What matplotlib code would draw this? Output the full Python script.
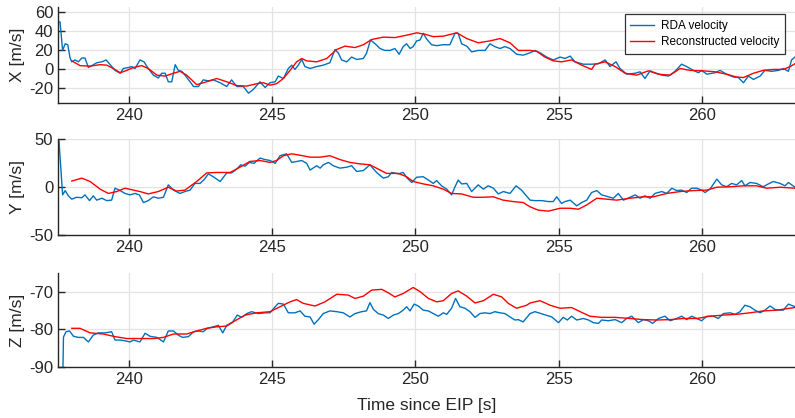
#!/usr/bin/env python3
from __future__ import annotations

import matplotlib

matplotlib.use("Agg")
import matplotlib.pyplot as plt


COLORS = {
    "rda": "#0072BD",
    "recon": "#FF0000",
    "axis": "#262626",
    "grid": "#e3e3e3",
}

# --- X component --------------------------------------------------------
x_rda_t = [
    237.53, 237.59, 237.68, 237.77, 237.86, 237.94, 238.00, 238.11, 238.23, 238.35,
    238.46, 238.58, 238.70, 238.87, 239.05, 239.20, 239.34, 239.51, 239.69, 239.80,
    239.98, 240.09, 240.21, 240.38, 240.52, 240.67, 240.85, 241.02, 241.14, 241.26,
    241.37, 241.49, 241.61, 241.72, 241.84, 241.95, 242.13, 242.25, 242.42, 242.59,
    242.77, 242.94, 243.18, 243.41, 243.58, 243.76, 243.99, 244.17, 244.34, 244.57,
    244.75, 244.92, 245.10, 245.21, 245.39, 245.56, 245.68, 245.79, 245.91, 246.03,
    246.14, 246.32, 246.55, 246.78, 247.01, 247.19, 247.31, 247.42, 247.60, 247.77,
    247.95, 248.18, 248.29, 248.43, 248.59, 248.76, 248.93, 249.11, 249.28, 249.43,
    249.57, 249.69, 249.81, 249.92, 250.04, 250.16, 250.27, 250.39, 250.56, 250.74,
    250.97, 251.20, 251.38, 251.49, 251.61, 251.79, 251.96, 252.19, 252.43, 252.60,
    252.77, 252.95, 253.12, 253.30, 253.53, 253.76, 254.00, 254.17, 254.35, 254.58,
    254.81, 255.05, 255.22, 255.40, 255.57, 255.86, 256.15, 256.39, 256.62, 256.79,
    257.00, 257.14, 257.37, 257.67, 257.84, 258.01, 258.19, 258.36, 258.60, 258.83,
    259.06, 259.29, 259.47, 259.70, 259.88, 259.99, 260.17, 260.46, 260.63, 260.86,
    261.10, 261.27, 261.45, 261.62, 261.80, 262.03, 262.20, 262.44, 262.67, 262.84,
    263.02, 263.13, 263.25,
]
x_rda_v = [
    50, 50, 20, 27, 26, 12, 8, 10, 8, 12,
    12, 2, 4, 7, 8, 10, 5, -1, -4, 1,
    2, 3, 1, 10, 8, 1, -6, -9, -4, -4,
    -13, -13, 5, -1, -2, -6, -13, -18, -18, -11,
    -12, -11, -14, -18, -11, -18, -18, -25, -21, -13,
    -19, -14, -13, -7, -9.5, 1, 4.5, 0, 4.5, 10.5,
    3, 1, 3, 4.5, 7, 21, 17, 10, 8, 13,
    10.5, 11.5, 17, 31, 27, 22, 20, 20, 22, 16,
    24, 27, 22, 24, 30, 31, 38, 32, 26, 25,
    26, 26, 38, 38, 27, 24.5, 18.5, 20, 20, 27,
    24, 22, 24, 22, 16, 15, 17.5, 20, 17.5, 13,
    10, 13, 11.5, 14, 8, 5.5, 5.5, 6, 10, 3,
    8, 1, -5, -4, -2.5, -9.5, -1.5, -3.5, -6, -7,
    -2, 5.5, 3, -1, -3.5, -1, -5, -3.5, -1, -5,
    -8, -8.5, -14, -7, -10.5, -7, -1, -2, -1, 1,
    -2, 10, 13,
]
x_rec_t = [
    238.00, 238.29, 238.64, 238.99, 239.22, 239.45, 239.69, 239.92, 240.15, 240.44,
    240.67, 240.97, 241.26, 241.55, 241.78, 242.01, 242.36, 242.71, 243.06, 243.41,
    243.76, 244.11, 244.46, 244.69, 244.92, 245.15, 245.39, 245.62, 245.85, 246.03,
    246.20, 246.55, 246.90, 247.25, 247.54, 247.89, 248.18, 248.47, 248.88, 249.28,
    249.69, 250.04, 250.33, 250.62, 250.97, 251.44, 251.79, 252.19, 252.60, 252.95,
    253.30, 253.59, 254.00, 254.23, 254.52, 254.81, 255.10, 255.45, 255.80, 256.15,
    256.27, 256.62, 256.97, 257.32, 257.72, 258.13, 258.48, 258.89, 259.24, 259.59,
    260.05, 260.46, 260.86, 261.21, 261.45, 261.80, 262.14, 262.49, 262.84, 263.08,
    263.25,
]
x_rec_v = [
    9, 4, 3.5, 5, 4.5, 1, -3.5, -1, 2, 4,
    1, -6, -7, -4, -2, -6, -16, -13, -9.5, -13,
    -17, -17.5, -15, -14, -16.5, -15, -9.5, -1, 8, 11.5,
    9, 8, 11.5, 21, 24.5, 23, 26, 31.5, 34, 33.5,
    36, 38.5, 37, 34.5, 35, 38.5, 32.5, 28, 30, 32.5,
    28, 20, 20, 19, 13, 9, 8, 10, 4.5, 0,
    5.5, 8, 3, -4, -6, -1.5, -5, -6, 1, -1,
    -1.5, -2.5, -5, -8, -8.5, -4, -1, 0, 0, 3,
    6,
]

# --- Y component --------------------------------------------------------
y_rda_t = [
    237.55, 237.68, 237.77, 237.88, 238.00, 238.17, 238.35, 238.46, 238.62, 238.75,
    238.87, 239.05, 239.22, 239.39, 239.51, 239.69, 239.86, 240.03, 240.21, 240.36,
    240.50, 240.67, 240.85, 241.02, 241.20, 241.37, 241.55, 241.78, 241.95, 242.13,
    242.30, 242.48, 242.62, 242.77, 242.94, 243.18, 243.41, 243.58, 243.76, 243.90,
    244.05, 244.20, 244.36, 244.57, 244.75, 244.92, 245.10, 245.27, 245.50, 245.68,
    245.85, 246.03, 246.20, 246.32, 246.55, 246.67, 246.78, 246.96, 247.13, 247.36,
    247.60, 247.77, 247.95, 248.18, 248.41, 248.64, 248.88, 249.05, 249.17, 249.40,
    249.57, 249.71, 249.87, 250.04, 250.27, 250.45, 250.62, 250.74, 250.91, 251.09,
    251.26, 251.38, 251.49, 251.61, 251.79, 251.96, 252.19, 252.37, 252.54, 252.72,
    252.89, 253.07, 253.30, 253.51, 253.70, 254.00, 254.17, 254.41, 254.64, 254.81,
    254.93, 255.10, 255.22, 255.40, 255.63, 255.80, 255.98, 256.15, 256.33, 256.50,
    256.73, 256.91, 257.08, 257.26, 257.49, 257.67, 257.84, 258.01, 258.19, 258.36,
    258.60, 258.77, 258.95, 259.12, 259.29, 259.47, 259.64, 259.82, 259.99, 260.11,
    260.28, 260.52, 260.69, 260.86, 261.04, 261.21, 261.39, 261.50, 261.68, 261.91,
    262.14, 262.32, 262.49, 262.73, 262.90, 263.02, 263.25,
]
y_rda_v = [
    50, -8, -3.5, -9, -12.5, -10.5, -11, -8, -14, -9,
    -13.5, -11.5, -14, -13.5, -1, -3.5, -6.5, -8, -6.5, -8,
    -16, -14, -10, -11.5, -10.5, 2.5, -3, -6.5, -4.5, -3,
    4, 4, 8, 14, 11, 6, 15, 15, 19, 23.5,
    22, 26, 25, 30.5, 29, 28, 25, 33, 35, 26,
    27, 28, 25, 18, 22.5, 20, 23.5, 26, 22.5, 20,
    21, 22.5, 16.5, 17.5, 23.5, 15.5, 9.5, 11, 15.5, 14,
    15.5, 9.5, 5, 10.5, 11, 7.5, 4, 7, 1.5, -2,
    -8, 0.5, 7.5, 3.5, 4, -4.5, 2.5, -2, 1.5, -1,
    -7, -4.5, -6.5, 1.5, -3, -13.5, -14, -14, -15, -15,
    -10, -17, -15, -13.5, -19.5, -16, -13.5, -5.5, -3.5, -8,
    -10, -11.5, -6.5, -13.5, -10.5, -8, -11.5, -9, -11.5, -6.5,
    -4.5, -6.5, -1, -3.5, -3, -5.5, -1, -1, -3, -5.5,
    -2, 8.5, 2.5, 0.5, 4, 2.5, 7, 1.5, 5, 4,
    0.5, 3.5, 6, 4, 1.5, 5, 0,
]
y_rec_t = [
    238.00, 238.35, 238.64, 238.99, 239.28, 239.57, 239.86, 240.15, 240.38, 240.67,
    241.02, 241.37, 241.66, 241.95, 242.36, 242.71, 243.06, 243.53, 243.87, 244.22,
    244.57, 244.92, 245.15, 245.39, 245.68, 245.97, 246.32, 246.67, 247.01, 247.36,
    247.71, 248.06, 248.41, 248.70, 248.99, 249.40, 249.69, 249.92, 250.27, 250.62,
    250.97, 251.26, 251.61, 252.02, 252.37, 252.72, 253.06, 253.41, 253.76, 254.00,
    254.29, 254.64, 255.05, 255.40, 255.69, 255.98, 256.33, 256.68, 257.03, 257.49,
    257.96, 258.31, 258.77, 259.24, 259.70, 260.17, 260.52, 260.98, 261.45, 261.91,
    262.26, 262.73, 263.25,
]
y_rec_v = [
    6.5, 9.5, 6, -2, -6.5, -4.5, -1, -3, -4.5, -7,
    -4.5, 0, -4, -3, 6, 15, 15.5, 15.5, 21, 27,
    28, 26, 28, 33, 35, 33.5, 31.5, 31.5, 33, 29,
    26, 24.5, 23.5, 19, 14.5, 14.5, 11, 6, 3.5, 1.5,
    -2, -6.5, -7, -10.5, -10.5, -10, -13.5, -15, -16, -20.5,
    -24, -25, -22, -22, -23, -18.5, -11.5, -12.5, -13.5, -11.5,
    -10, -10, -6.5, -4.5, -3.5, -3, 0, 0.5, 1.5, 1.5,
    -1, 0, -1,
]

# --- Z component --------------------------------------------------------
z_rda_t = [
    237.68, 237.71, 237.80, 237.92, 238.06, 238.23, 238.41, 238.58, 238.75, 238.93,
    239.16, 239.39, 239.51, 239.69, 239.86, 240.03, 240.15, 240.38, 240.56, 240.73,
    240.97, 241.20, 241.37, 241.55, 241.72, 241.87, 242.07, 242.25, 242.42, 242.59,
    242.73, 242.94, 243.12, 243.27, 243.41, 243.62, 243.78, 243.93, 244.11, 244.28,
    244.51, 244.75, 244.92, 245.10, 245.21, 245.39, 245.56, 245.79, 245.97, 246.14,
    246.32, 246.46, 246.61, 246.78, 247.01, 247.25, 247.48, 247.71, 247.89, 248.12,
    248.29, 248.41, 248.53, 248.70, 248.88, 249.05, 249.23, 249.40, 249.57, 249.69,
    249.81, 249.95, 250.10, 250.27, 250.45, 250.62, 250.80, 250.97, 251.09, 251.26,
    251.40, 251.55, 251.73, 251.90, 252.08, 252.25, 252.42, 252.60, 252.77, 252.95,
    253.12, 253.30, 253.47, 253.59, 253.76, 254.00, 254.17, 254.47, 254.76, 254.99,
    255.16, 255.30, 255.45, 255.63, 255.86, 256.04, 256.21, 256.39, 256.50, 256.73,
    256.97, 257.20, 257.37, 257.55, 257.78, 257.96, 258.13, 258.28, 258.48, 258.71,
    258.89, 259.12, 259.29, 259.47, 259.64, 259.82, 259.99, 260.17, 260.40, 260.57,
    260.75, 260.98, 261.16, 261.33, 261.50, 261.68, 261.85, 262.03, 262.20, 262.38,
    262.55, 262.73, 262.84, 263.02, 263.25,
]
z_rda_v = [
    -95, -82, -80.6, -80.4, -81.8, -82.1, -82.1, -83.3, -81.5, -80.9,
    -80.9, -80.6, -82.8, -82.8, -83, -83.3, -82.8, -83.3, -81, -81.8,
    -82.1, -83.3, -80.4, -80.4, -81.5, -82.1, -81.9, -80.6, -80.4, -80.6,
    -79.7, -79.3, -78.9, -80.9, -78.9, -78, -76.2, -76.8, -75.8, -75.3,
    -75.8, -75.6, -75.6, -74, -73.1, -73.3, -75.6, -75.6, -75.1, -76.5,
    -76.7, -78.6, -77.4, -75.8, -75.1, -75.3, -75.6, -76.7, -75.8, -75.3,
    -75.1, -72.9, -74.7, -75.8, -76.2, -77.1, -76.2, -75.8, -74.9, -74,
    -75.1, -73.3, -73.8, -74.9, -75.1, -75.8, -76.5, -75.6, -76, -74.4,
    -71.8, -74, -74.4, -75.3, -76.8, -75.8, -75.6, -75.8, -75.3, -75.6,
    -75.8, -76.7, -77.5, -77.4, -78, -75.8, -75.3, -76, -76.7, -78.2,
    -76.8, -77.5, -76.5, -77.5, -77.1, -77.5, -78.2, -78.4, -77.5, -77.7,
    -77.4, -78.2, -77.1, -76.5, -78.2, -77.4, -77.7, -78.4, -77.1, -76.5,
    -77.7, -77.1, -76.5, -77.4, -76.5, -77.1, -77.7, -76.5, -76.5, -77.1,
    -75.8, -75.6, -76, -75.3, -73.6, -74, -74.9, -75.6, -74.9, -73.8,
    -74.7, -74.9, -74.9, -73.3, -74,
]
z_rec_t = [
    238.00, 238.29, 238.64, 239.10, 239.51, 239.92, 240.38, 240.85, 241.20, 241.55,
    242.01, 242.36, 242.71, 243.06, 243.41, 243.70, 244.05, 244.46, 244.92, 245.27,
    245.62, 245.85, 246.08, 246.49, 246.84, 247.25, 247.65, 247.89, 248.18, 248.47,
    248.82, 249.05, 249.28, 249.57, 249.92, 250.16, 250.45, 250.74, 250.97, 251.26,
    251.49, 251.79, 252.08, 252.37, 252.72, 253.01, 253.24, 253.53, 253.88, 254.00,
    254.35, 254.70, 255.05, 255.45, 255.75, 256.09, 256.50, 256.97, 257.49, 257.96,
    258.42, 258.89, 259.35, 259.82, 260.28, 260.75, 261.21, 261.68, 262.14, 262.61,
    263.25,
]
z_rec_v = [
    -79.7, -79.7, -80.9, -81.2, -81.9, -82.4, -82.4, -82.4, -82.1, -81.2,
    -81.2, -80.4, -79.7, -79.3, -79.1, -77.7, -76.2, -75.6, -75.3, -74,
    -72.7, -72.1, -73.1, -73.8, -72.7, -70.7, -70.9, -71.8, -71.2, -69.6,
    -69.4, -70.3, -71.4, -70.5, -68.9, -70, -71.8, -72.7, -72.4, -70.5,
    -69.8, -71.2, -73, -72.4, -70.7, -71.4, -73.1, -74.4, -73.6, -73,
    -72.4, -73.6, -74.4, -74.2, -75.3, -76.5, -76.8, -76.8, -77.1, -77.4,
    -77.5, -77.4, -77.1, -77.1, -76.5, -76.2, -76, -75.6, -75.1, -74.9,
    -74.2,
]

X_LIMITS = (237.52, 263.25)
X_TICKS = [240, 245, 250, 255, 260]

PANELS = [
    ("X [m/s]", x_rda_t, x_rda_v, x_rec_t, x_rec_v, (-35, 66), [-20, 0, 20, 40, 60]),
    ("Y [m/s]", y_rda_t, y_rda_v, y_rec_t, y_rec_v, (-50, 50), [-50, 0, 50]),
    ("Z [m/s]", z_rda_t, z_rda_v, z_rec_t, z_rec_v, (-90, -65), [-90, -80, -70]),
]

# axes rectangles in figure fractions: left, bottom, width, height
AX_RECTS = [
    (0.073, 0.7543, 0.927, 0.2297),
    (0.073, 0.4378, 0.927, 0.2285),
    (0.073, 0.1213, 0.927, 0.2263),
]


def style_axis(ax: plt.Axes) -> None:
    for spine in ["top", "right"]:
        ax.spines[spine].set_visible(False)
    for spine in ["left", "bottom"]:
        ax.spines[spine].set_color(COLORS["axis"])
        ax.spines[spine].set_linewidth(1.0)
    ax.tick_params(direction="in", length=5, width=1.0, color=COLORS["axis"],
                   labelcolor=COLORS["axis"], labelsize=12)
    ax.grid(True, color=COLORS["grid"], linewidth=0.9)
    ax.set_axisbelow(True)


def main() -> None:
    plt.rcParams["font.family"] = ["Liberation Sans", "DejaVu Sans"]
    plt.rcParams["axes.unicode_minus"] = False
    fig = plt.figure(figsize=(7.95, 4.18), dpi=100)

    axes = []
    for rect, (ylabel, t_rda, v_rda, t_rec, v_rec, ylim, yticks) in zip(AX_RECTS, PANELS):
        ax = fig.add_axes(rect)
        ax.plot(t_rda, v_rda, color=COLORS["rda"], linewidth=1.0, solid_joinstyle="round",
                label="RDA velocity")
        ax.plot(t_rec, v_rec, color=COLORS["recon"], linewidth=1.0, solid_joinstyle="round",
                label="Reconstructed velocity")
        ax.set_xlim(*X_LIMITS)
        ax.set_ylim(*ylim)
        ax.set_xticks(X_TICKS)
        ax.set_yticks(yticks)
        ax.set_ylabel(ylabel, fontsize=12.5, color=COLORS["axis"], labelpad=3)
        style_axis(ax)
        axes.append(ax)

    axes[-1].set_xlabel("Time since EIP [s]", fontsize=12.5, color=COLORS["axis"], labelpad=8)

    leg = axes[0].legend(loc="upper right", bbox_to_anchor=(0.987, 0.92), borderaxespad=0,
                         fontsize=8.5, frameon=True, fancybox=False, handlelength=2.0,
                         borderpad=0.5, labelspacing=0.35, handletextpad=0.6)
    leg.get_frame().set_edgecolor("black")
    leg.get_frame().set_linewidth(0.9)

    fig.savefig("out.png", dpi=100)
    plt.close(fig)


if __name__ == "__main__":
    main()
